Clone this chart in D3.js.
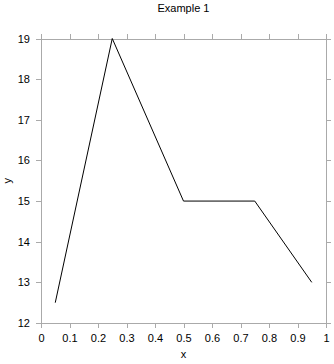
<!DOCTYPE html>
<html>
<head>
<meta charset="utf-8">
<script src="https://cdn.jsdelivr.net/npm/d3@7"></script>
<style>
  html, body { margin: 0; padding: 0; background: #fff; }
  svg { display: block; font-family: "Liberation Sans", Arial, sans-serif; }
</style>
</head>
<body>
<svg id="chart" width="334" height="364"></svg>
<script>
// data
const xValues = [0.05, 0.25, 0.5, 0.75, 0.95];
const yValues = [12.5, 19, 15, 15, 13];
const xTicks = [0, 0.1, 0.2, 0.3, 0.4, 0.5, 0.6, 0.7, 0.8, 0.9, 1];
const yTicks = [12, 13, 14, 15, 16, 17, 18, 19];

function drawChart() {
  const svg = d3.select("#chart");
  const margin = { top: 38.5, right: 8, bottom: 41, left: 41 };
  const width = 334, height = 364;

  const x = d3.scaleLinear().domain([0, 1]).range([margin.left, width - margin.right]);
  const y = d3.scaleLinear().domain([12, 19]).range([height - margin.bottom, margin.top]);

  const axisColor = "#aaa";
  const fmt = d => d3.format("")(d);

  // frame axes: bottom, top, left, right
  const bottom = svg.append("g")
    .attr("transform", `translate(0,${y(12)})`)
    .call(d3.axisBottom(x).tickValues(xTicks).tickFormat(fmt).tickSizeInner(5).tickSizeOuter(0).tickPadding(6));
  const top = svg.append("g")
    .attr("transform", `translate(0,${y(19)})`)
    .call(d3.axisTop(x).tickValues(xTicks).tickFormat("").tickSizeInner(5).tickSizeOuter(0));
  const left = svg.append("g")
    .attr("transform", `translate(${x(0)},0)`)
    .call(d3.axisLeft(y).tickValues(yTicks).tickFormat(fmt).tickSizeInner(5).tickSizeOuter(0).tickPadding(6));
  const right = svg.append("g")
    .attr("transform", `translate(${x(1)},0)`)
    .call(d3.axisRight(y).tickValues(yTicks).tickFormat("").tickSizeInner(5).tickSizeOuter(0));

  [bottom, top, left, right].forEach(g => {
    g.selectAll(".domain, line").attr("stroke", axisColor).attr("shape-rendering", "crispEdges");
    g.selectAll("text").attr("fill", "#000").attr("font-size", 11)
      .attr("font-family", "Liberation Sans, Arial, sans-serif");
  });

  // the line
  const pts = xValues.map((v, i) => [v, yValues[i]]);
  svg.append("path")
    .datum(pts)
    .attr("fill", "none")
    .attr("stroke", "#000")
    .attr("stroke-width", 1)
    .attr("d", d3.line().x(d => x(d[0])).y(d => y(d[1])));

  // title and axis labels
  svg.append("text")
    .attr("x", (x(0) + x(1)) / 2).attr("y", 12)
    .attr("text-anchor", "middle").attr("font-size", 11)
    .text("Example 1");
  svg.append("text")
    .attr("x", (x(0) + x(1)) / 2).attr("y", 358)
    .attr("text-anchor", "middle").attr("font-size", 11)
    .text("x");
  svg.append("text")
    .attr("transform", `translate(11,${(y(12) + y(19)) / 2}) rotate(-90)`)
    .attr("text-anchor", "middle").attr("font-size", 11)
    .text("y");
}

drawChart();
</script>
</body>
</html>
